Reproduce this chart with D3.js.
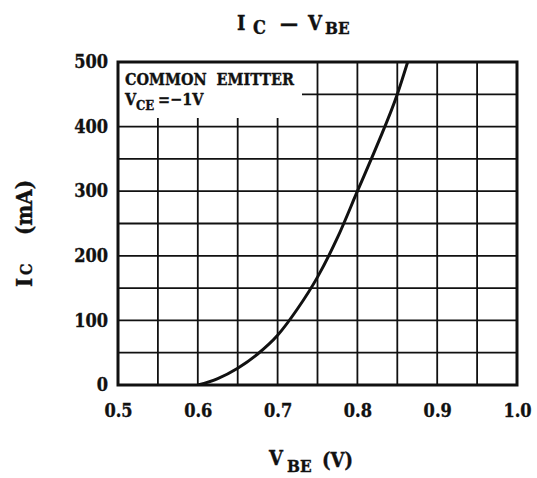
<!DOCTYPE html>
<html>
<head>
<meta charset="utf-8">
<script src="https://cdn.jsdelivr.net/npm/d3@7"></script>
<style>
html,body{margin:0;padding:0;background:#fff;}
svg{display:block;}
text{font-family:"DejaVu Serif Condensed","DejaVu Serif",serif;font-stretch:condensed;font-weight:bold;fill:#111;stroke:#111;stroke-width:0.35px;}
</style>
</head>
<body>
<svg id="chart" width="537" height="478"></svg>
<script>
// Data
const vbe = [0.60, 0.625, 0.65, 0.675, 0.70, 0.725, 0.75, 0.775, 0.80, 0.825, 0.85, 0.863];
const ic  = [0,    10,    26,   48,    77,   118,   167,  228,   300,  372,   450,  500];
const xTickLabels = [0.5, 0.6, 0.7, 0.8, 0.9, 1.0];
const yTickLabels = [0, 100, 200, 300, 400, 500];
const xGrid = [0.55, 0.6, 0.65, 0.7, 0.75, 0.8, 0.85, 0.9, 0.95];
const yGrid = [50, 100, 150, 200, 250, 300, 350, 400, 450];
const legendLine1 = "COMMON  EMITTER";
const legendLine2 = ["V", "CE", "=−1V"];

const svg = d3.select("#chart");
const L = 118, R = 517, T = 62, B = 385;
const x = d3.scaleLinear().domain([0.5, 1.0]).range([L, R]);
const y = d3.scaleLinear().domain([0, 500]).range([B, T]);

// grid
const g = svg.append("g");
g.selectAll("line.v").data(xGrid).join("line")
  .attr("x1", d => x(d)).attr("x2", d => x(d))
  .attr("y1", T).attr("y2", B)
  .attr("stroke", "#111").attr("stroke-width", 1.8);
g.selectAll("line.h").data(yGrid).join("line")
  .attr("y1", d => y(d)).attr("y2", d => y(d))
  .attr("x1", L).attr("x2", R)
  .attr("stroke", "#111").attr("stroke-width", 1.8);

// legend box (white, covers grid)
svg.append("rect").attr("x", L).attr("y", T).attr("width", 302 - L).attr("height", 118 - T)
  .attr("fill", "#fff");

// curve
svg.append("clipPath").attr("id", "clip").append("rect")
  .attr("x", L).attr("y", T).attr("width", R - L).attr("height", B - T);
const pts = vbe.map((v, i) => [v, ic[i]]);
svg.append("path").datum(pts)
  .attr("clip-path", "url(#clip)")
  .attr("fill", "none").attr("stroke", "#111").attr("stroke-width", 3)
  .attr("d", d3.line().x(d => x(d[0])).y(d => y(d[1])).curve(d3.curveMonotoneX));

// border
svg.append("rect").attr("x", L).attr("y", T).attr("width", R - L).attr("height", B - T)
  .attr("fill", "none").attr("stroke", "#111").attr("stroke-width", 3);

// axes (labels only)
const xAxis = svg.append("g").attr("transform", `translate(0,${B})`)
  .call(d3.axisBottom(x).tickValues(xTickLabels).tickFormat(d3.format(".1f")).tickSize(0).tickPadding(19));
const yAxis = svg.append("g").attr("transform", `translate(${L},0)`)
  .call(d3.axisLeft(y).tickValues(yTickLabels).tickSize(0).tickPadding(10));
[xAxis, yAxis].forEach(a => {
  a.select(".domain").remove();
  a.selectAll("text").attr("font-family", null).attr("font-size", 18).attr("fill", "#111");
});

// legend text
svg.append("text").attr("x", 125).attr("y", 85).attr("font-size", 16)
  .style("white-space", "pre").text(legendLine1);
const l2 = svg.append("text").attr("font-size", 16);
l2.append("tspan").attr("x", 125).attr("y", 105).text(legendLine2[0]);
l2.append("tspan").attr("x", 136).attr("y", 110).attr("font-size", 13).text(legendLine2[1]);
l2.append("tspan").attr("x", 158).attr("y", 105).text(legendLine2[2]);

// title
const t = svg.append("text").attr("font-size", 20);
t.append("tspan").attr("x", 237).attr("y", 30).text("I");
t.append("tspan").attr("x", 253).attr("y", 34).attr("font-size", 18).text("C");
t.append("tspan").attr("x", 280).attr("y", 30).text("—");
t.append("tspan").attr("x", 308).attr("y", 30).text("V");
t.append("tspan").attr("x", 325).attr("y", 34).attr("font-size", 17).text("BE");

// x axis title
const xt = svg.append("text").attr("font-size", 20);
xt.append("tspan").attr("x", 269).attr("y", 465).text("V");
xt.append("tspan").attr("x", 287).attr("y", 472).attr("font-size", 17).text("BE");
xt.append("tspan").attr("x", 322).attr("y", 467).text("(V)");

// y axis title (rotated)
const yt = svg.append("text").attr("transform", "translate(32,0) rotate(-90)").attr("font-size", 22);
yt.append("tspan").attr("x", -287).attr("y", 0).text("I");
yt.append("tspan").attr("x", -275).attr("y", 0).attr("font-size", 16).text("C");
yt.append("tspan").attr("x", -235).attr("y", 0).text("(mA)");
</script>
</body>
</html>
